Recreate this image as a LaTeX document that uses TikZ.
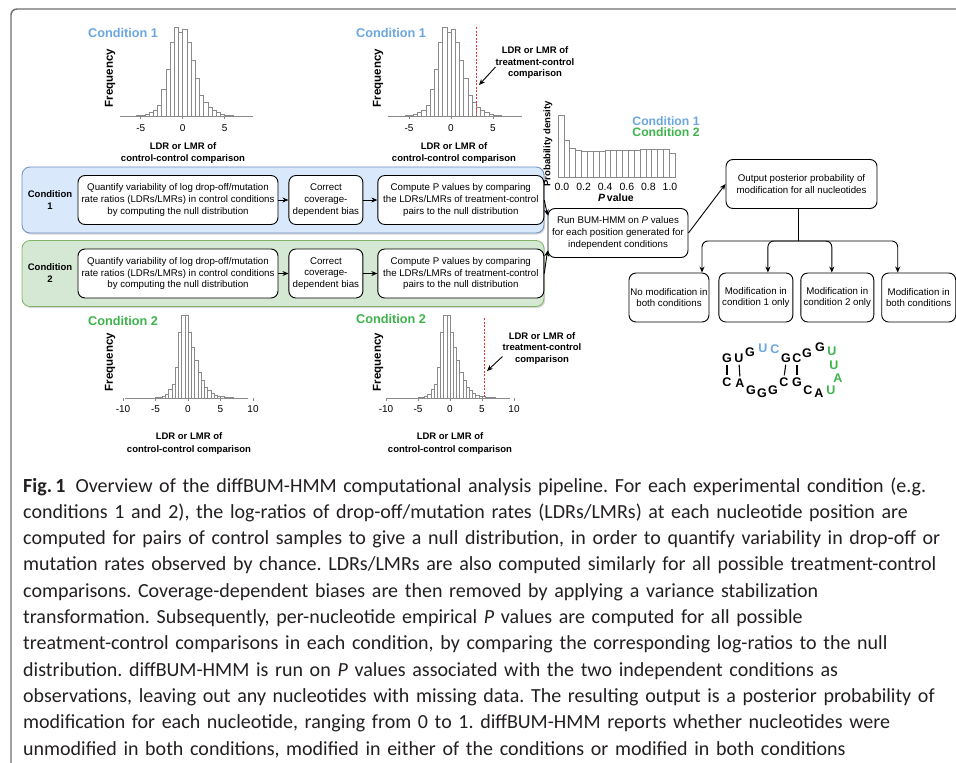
\documentclass[tikz,border=0pt]{standalone}
\usepackage{fontspec}
\setmainfont{Liberation Sans}
\newfontfamily\capfont{Carlito}
\usepackage{xcolor}
\usetikzlibrary{positioning,arrows.meta,calc,shadows}
\definecolor{CondBlue}{HTML}{6AA7E0}
\definecolor{CondGreen}{HTML}{3CB44B}
\definecolor{PanelBlue}{HTML}{DAE8FC}
\definecolor{EdgeBlue}{HTML}{6C8EBF}
\definecolor{PanelGreen}{HTML}{D5E8D4}
\definecolor{EdgeGreen}{HTML}{82B366}
\definecolor{BarGray}{HTML}{8A8A8A}
\definecolor{NullRed}{HTML}{E8342F}
\definecolor{FrameGray}{HTML}{6E6E6E}
\definecolor{CapText}{HTML}{231F20}
\newcommand{\boxfont}{\fontsize{9.7}{11.7}\selectfont}
% bars of a histogram: left edge, baseline, bin width, heights
\newcommand{\drawhist}[4]{%
  \foreach \h [count=\i from 0] in {#4}
    \draw[histbar] ({#1+\i*#3},#2) rectangle ++(#3,-\h);}

\begin{document}
\begin{tikzpicture}[x=1pt, y=-1pt, >={Stealth[length=6pt,width=5pt]},
    every node/.style={inner sep=0pt},
    stepbox/.style={draw, line width=0.9pt, rounded corners=7pt, fill=white, align=center, minimum height=49pt, font=\boxfont},
    condpanel/.style={rounded corners=8pt, line width=0.8pt, minimum width=522pt, minimum height=66pt, drop shadow={shadow xshift=1.2pt, shadow yshift=-1.6pt, opacity=0.3}},
    condlab/.style={font=\fontsize{9.5}{12}\selectfont\bfseries, align=center},
    histtitle/.style={font=\fontsize{12.7}{14}\selectfont\bfseries},
    ylab/.style={font=\fontsize{11.5}{13}\selectfont\bfseries, rotate=90},
    xlab/.style={font=\fontsize{9.5}{12.5}\selectfont\bfseries, align=center},
    ticklab/.style={font=\fontsize{10}{12}\selectfont},
    histbar/.style={draw=BarGray, line width=0.5pt, fill=white},
    histaxis/.style={draw=BarGray, line width=0.6pt},
    nullline/.style={NullRed, dash pattern=on 2pt off 1.5pt, line width=0.9pt},
    tclabel/.style={font=\fontsize{9.5}{11.5}\selectfont\bfseries, align=center},
    flow/.style={->, line width=0.9pt},
    nt/.style={font=\fontsize{12.5}{14}\selectfont\bfseries},
    outerframe/.style={draw=FrameGray, line width=1.4pt, rounded corners=6pt},
    figcap/.style={font=\capfont\fontsize{20}{26.3}\selectfont\frenchspacing, text width=950pt, align=left, text=CapText}]
  \useasboundingbox (0,0) rectangle (956,763);
  \draw[outerframe] (11,763) |- (956,9);

  % histograms of control-control comparisons
  \drawhist{136.5}{116}{4.2}{0.3,1,1.7,3.3,6,11,27,47,74,89,84,87,74,56,38,21,14,9,6,3.5,2,1,0.5}
  \drawhist{404.8}{116}{4.2}{0.3,1,1.7,3.3,6,11,27,47,74,89,84,87,74,56,38,21,14,9,6,3.5,2,1,0.5}
  \drawhist{155.5}{398}{3.25}{0.5,1,2,4,9,14,31,66,83,83,66,51,38,26,18,11,8,5,3,2,1.3,1,0.7,0.4}
  \drawhist{418}{398}{3.2}{0.5,1,2,4,9,14,31,66,83,83,66,51,38,26,18,11,8,5,3,2,1.3,1,0.7,0.4}
  \draw[histaxis] (120,116) -- (253,116);
  \draw[histaxis] (388,116) -- (522,116);
  \draw[histaxis] (125,398) -- (248,398);
  \draw[histaxis] (387,398) -- (510,398);
  \foreach \t [count=\k] in {-5,0,5} {
    \draw[histaxis] ({182.7+8.4*\t},116) -- ++(0,3);
    \draw[histaxis] ({451+8.4*\t},116) -- ++(0,3);
    \node[ticklab] (ta\k) at ({182.7+8.4*\t},128) {\t};
    \node[ticklab] (tb\k) at ({451+8.4*\t},128) {\t};
  }
  \foreach \t [count=\k] in {-10,-5,0,5,10} {
    \draw[histaxis] ({188+6.5*\t},398) -- ++(0,3);
    \draw[histaxis] ({450+6.4*\t},398) -- ++(0,3);
    \node[ticklab] (tc\k) at ({188+6.5*\t},409) {\t};
    \node[ticklab] (td\k) at ({450+6.4*\t},409) {\t};
  }
  \draw[nullline] (476,27) -- (476,116);
  \draw[nullline] (484,318) -- (484,398);

  \node[histtitle, text=CondBlue] (title1) at (123,33) {Condition 1};
  \node[histtitle, text=CondBlue] (title2) at (391,33) {Condition 1};
  \node[histtitle, text=CondGreen] (title3) at (123,321) {Condition 2};
  \node[histtitle, text=CondGreen] (title4) at (391,319) {Condition 2};
  \node[ylab] (freq1) at (110,78) {Frequency};
  \node[ylab] (freq2) at (378,78) {Frequency};
  \node[ylab] (freq3) at (110,362) {Frequency};
  \node[ylab] (freq4) at (378,362) {Frequency};
  \node[xlab] (xlab1) at (183,153) {LDR or LMR of\\control-control comparison};
  \node[xlab] (xlab2) at (454,153) {LDR or LMR of\\control-control comparison};
  \node[xlab] (xlab3) at (189,443.5) {LDR or LMR of\\control-control comparison};
  \node[xlab] (xlab4) at (450,443.5) {LDR or LMR of\\control-control comparison};

  % treatment-control labels
  \node[tclabel] (tc1) at (535,63) {LDR or LMR of\\treatment-control\\comparison};
  \node[tclabel] (tc2) at (542,348.5) {LDR or LMR of\\treatment-control\\comparison};
  \coordinate (tip1) at (479,85);
  \coordinate (tip2) at (487,371);
  \draw[flow] ([yshift=-4pt]tc1.west) -- (tip1);
  \draw[flow] ([yshift=-8pt]tc2.west) -- (tip2);

  % the two condition rows
  \node[condpanel, draw=EdgeBlue, fill=PanelBlue] (row1) at (283,200) {};
  \node[condpanel, draw=EdgeGreen, fill=PanelGreen] (row2) at (283,273.5) {};
  \node[condlab] (cond1) at (50,200) {Condition\\1};
  \node[condlab] (cond2) at (50,273.5) {Condition\\2};

  % P value histogram
  \drawhist{558}{177}{5.85}{62,37,29,27,26,26,26,26,26.5,26.5,27,27,27,27,27.5,27.5,28,28,28,24}
  \foreach \t [count=\k from 0] in {0.0,0.2,0.4,0.6,0.8,1.0}
    \node[ticklab, font=\fontsize{10.5}{12}\selectfont] (tp\k) at ({562+21.6*\k},187) {\t};
  \node[font=\fontsize{10.5}{12}\selectfont\bfseries] (pval) at (616,198) {\textit{P}\,value};
  \node[ylab, font=\fontsize{9.5}{11}\selectfont\bfseries] (pdens) at (548,144) {Probability density};
  \node[histtitle, font=\fontsize{12.2}{14}\selectfont\bfseries, text=CondBlue] (leg1) at (666,121) {Condition 1};
  \node[histtitle, font=\fontsize{12.2}{14}\selectfont\bfseries, text=CondGreen] (leg2) at (666,132.5) {Condition 2};

  \node[stepbox, minimum width=200pt] (quant1) at (178,200) {Quantify variability of log drop-off/mutation\\rate ratios (LDRs/LMRs) in control conditions\\by computing the null distribution};
  \node[stepbox, minimum width=74pt, right=10pt of quant1] (corr1) {Correct\\coverage-\\dependent bias};
  \node[stepbox, minimum width=166pt, right=14pt of corr1] (comp1) {Compute P values by comparing\\the LDRs/LMRs of treatment-control\\pairs to the null distribution};
  \node[stepbox, minimum width=200pt] (quant2) at (178,273.5) {Quantify variability of log drop-off/mutation\\rate ratios (LDRs/LMRs) in control conditions\\by computing the null distribution};
  \node[stepbox, minimum width=74pt, right=10pt of quant2] (corr2) {Correct\\coverage-\\dependent bias};
  \node[stepbox, minimum width=166pt, right=14pt of corr2] (comp2) {Compute P values by comparing\\the LDRs/LMRs of treatment-control\\pairs to the null distribution};

  \node[stepbox, minimum width=140pt] (bum) at (618,233) {Run BUM-HMM on \textit{P} values\\for each position generated for\\independent conditions};
  \node[stepbox, minimum width=151pt] (post) at (801.5,184) {Output posterior probability of\\modification for all nucleotides};
  \node[stepbox, minimum width=80pt] (mod1) at (669,297.5) {No modification in\\both conditions};
  \node[stepbox, minimum width=74pt, right=9pt of mod1] (mod2) {Modification in\\condition 1 only};
  \node[stepbox, minimum width=73pt, right=7pt of mod2] (mod3) {Modification in\\condition 2 only};
  \node[stepbox, minimum width=74pt, right=7pt of mod3] (mod4) {Modification in\\both conditions};

  \draw[flow] (quant1) -- (corr1);
  \draw[flow] (corr1) -- (comp1);
  \draw[flow] (quant2) -- (corr2);
  \draw[flow] (corr2) -- (comp2);
  \draw[flow] (comp1.east) -- (bum.166);
  \draw[flow] (comp2.east) -- (bum.194);
  \draw[flow] (bum.east) -- (post.west);
  \coordinate (split) at ($(post.south)+(-3,32)$);
  \draw[line width=0.9pt] (post.south -| split) -- (split);
  \foreach \m/\dx in {mod1/33, mod2/12, mod3/-5.5, mod4/-21}
    \draw[flow, rounded corners=6pt] (split) -| ($(\m.north)+(\dx,0)$);

  % RNA structure
  \foreach \b/\x/\y/\c [count=\k] in {G/727/358/black, U/739/358/black, G/750/352/black, U/763/348/CondBlue, C/775/349/CondBlue, G/786/358/black, C/797/358/black, G/807/353/black, G/820/347/black, U/832/351/CondGreen, U/834/365/CondGreen, A/838/378.5/CondGreen, U/831/390/CondGreen, A/819/393/black, C/808/390/black, G/797/382/black, C/784/382/black, G/773/390/black, G/762/393/black, G/751/390/black, A/740/383/black, C/727/382/black}
    \node[nt, text=\c] (nt\k) at (\x,\y) {\b};
  \foreach \p/\q in {1/22, 2/21, 6/17, 7/16}
    \draw[line width=1.1pt, shorten <=2pt, shorten >=2pt] (nt\p.south) -- (nt\q.north);

  % caption
  \node[figcap, anchor=base west] (caption) at (23,492) {\textbf{Fig.\,1}\enspace Overview of the diffBUM-HMM computational analysis pipeline. For each experimental condition (e.g.\\
conditions 1 and 2), the log-ratios of drop-off/mutation rates (LDRs/LMRs) at each nucleotide position are\\
computed for pairs of control samples to give a null distribution, in order to quantify variability in drop-off or\\
mutation rates observed by chance. LDRs/LMRs are also computed similarly for all possible treatment-control\\
comparisons. Coverage-dependent biases are then removed by applying a variance stabilization\\
transformation. Subsequently, per-nucleotide empirical \textit{P} values are computed for all possible\\
treatment-control comparisons in each condition, by comparing the corresponding log-ratios to the null\\
distribution. diffBUM-HMM is run on \textit{P} values associated with the two independent conditions as\\
observations, leaving out any nucleotides with missing data. The resulting output is a posterior probability of\\
modification for each nucleotide, ranging from 0 to 1. diffBUM-HMM reports whether nucleotides were\\
unmodified in both conditions, modified in either of the conditions or modified in both conditions};
\end{tikzpicture}
\end{document}
